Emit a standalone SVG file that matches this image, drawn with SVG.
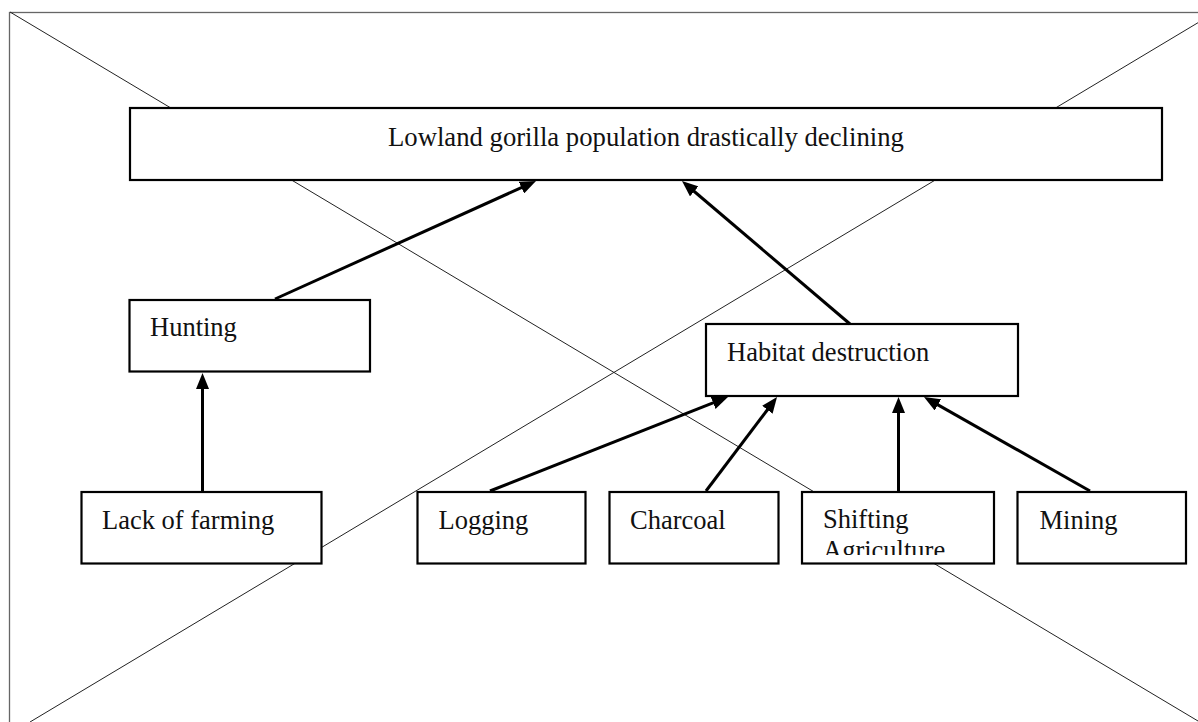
<svg xmlns="http://www.w3.org/2000/svg" width="1198" height="722" viewBox="0 0 1198 722">
<style>
.frame{fill:none;stroke:#666;stroke-width:1.3}
.diag{stroke:#222;stroke-width:1}
.box{fill:#fff;stroke:#000;stroke-width:2.2}
.lbl{font-family:"Liberation Serif","Times New Roman",serif;font-size:26.5px;fill:#111}
.arr{stroke:#000;stroke-width:3;fill:none;marker-end:url(#ah)}
</style>
<defs>
<marker id="ah" markerUnits="userSpaceOnUse" markerWidth="16" markerHeight="13" refX="6" refY="6.5" orient="auto" viewBox="0 0 16 13">
<path d="M0,0 L16,6.5 L0,13 z" fill="#000"/>
</marker>
<clipPath id="clipShift"><rect x="803" y="493" width="190" height="62"/></clipPath>
</defs>
<rect width="1198" height="722" fill="#fff"/>
<g id="background">
<rect class="frame" x="9.5" y="12.5" width="1200" height="720"/>
<line class="diag" x1="10" y1="12" x2="1198" y2="721"/>
<line class="diag" x1="1198" y1="22.7" x2="30" y2="722"/>
</g>
<g id="n-main"><rect class="box" x="130" y="108" width="1032" height="72"/><text class="lbl" x="388" y="146" style="font-size:26.7px">Lowland gorilla population drastically declining</text></g>
<g id="n-hunting"><rect class="box" x="129.5" y="300" width="240.5" height="71.5"/><text class="lbl" x="150" y="336">Hunting</text></g>
<g id="n-habitat"><rect class="box" x="706" y="324" width="312" height="72"/><text class="lbl" x="727" y="361">Habitat destruction</text></g>
<g id="n-lack"><rect class="box" x="81.5" y="492" width="240" height="71.5"/><text class="lbl" x="102" y="529">Lack of farming</text></g>
<g id="n-logging"><rect class="box" x="417.5" y="492" width="168" height="71.5"/><text class="lbl" x="438.5" y="529">Logging</text></g>
<g id="n-charcoal"><rect class="box" x="609.5" y="492" width="169" height="71.5"/><text class="lbl" x="630" y="529">Charcoal</text></g>
<g id="n-shifting"><rect class="box" x="802" y="492" width="192" height="71.5"/><text class="lbl" clip-path="url(#clipShift)"><tspan x="823" y="528">Shifting</tspan><tspan x="823" y="559">Agriculture</tspan></text></g>
<g id="n-mining"><rect class="box" x="1017.5" y="492" width="168.5" height="71.5"/><text class="lbl" x="1039.5" y="529">Mining</text></g>
<g id="connectors">
<line class="arr" x1="275" y1="299" x2="526.9" y2="185.1"/>
<line class="arr" x1="850" y1="324" x2="689.6" y2="187.5"/>
<line class="arr" x1="202.5" y1="491" x2="202.5" y2="383"/>
<line class="arr" x1="490" y1="491" x2="718.7" y2="400.7"/>
<line class="arr" x1="706" y1="491" x2="771" y2="405"/>
<line class="arr" x1="898.5" y1="491" x2="898.5" y2="407"/>
<line class="arr" x1="1090" y1="491" x2="932.7" y2="401.9"/>
</g>
</svg>
